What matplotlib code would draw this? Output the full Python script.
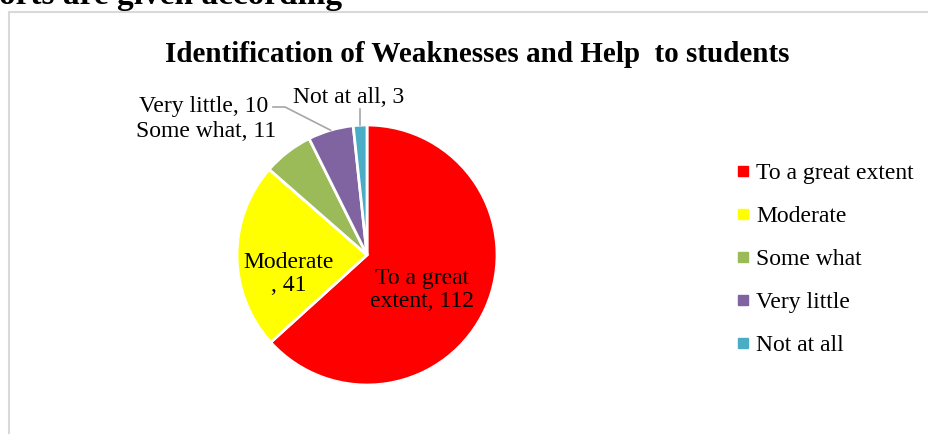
import numpy as np
import matplotlib
matplotlib.use("Agg")
import matplotlib.pyplot as plt
from matplotlib.lines import Line2D
from matplotlib.patches import Rectangle

plt.rcParams['font.family'] = ['Liberation Serif', 'DejaVu Serif']

# data
categories = ["To a great extent", "Moderate", "Some what", "Very little", "Not at all"]
counts = [112, 41, 11, 10, 3]
colors = ["#FF0000", "#FFFF00", "#9BBB59", "#8064A2", "#4BACC6"]
title = "Identification of Weaknesses and Help  to students"
heading = "orts are given according"

W, H = 929, 434
fig = plt.figure(figsize=(W / 100, H / 100), dpi=100)

# bits of the page around the chart
fig.text(-1 / W, 1 - 4 / H, heading, fontsize=24, fontweight='bold',
         ha='left', va='baseline')
fig.patches.append(Rectangle((8.5 / W, -0.1), 1.2, 1.1 - 12.5 / H,
                             transform=fig.transFigure, fill=False,
                             edgecolor='#D9D9D9', lw=1.5))

fig.text(477 / W, 1 - 62 / H, title, fontsize=21, fontweight='bold',
         ha='center', va='baseline')

# pie, centre (367,255) radius 130 px
cx, cy, r = 367, 255, 130
ax = fig.add_axes([(cx - r) / W, (H - cy - r) / H, 2 * r / W, 2 * r / H])
wedges, _ = ax.pie(counts, colors=colors, startangle=90, counterclock=False,
                   wedgeprops=dict(edgecolor='white', linewidth=2))
ax.set_xlim(-1, 1)
ax.set_ylim(-1, 1)
ax.set_aspect('equal')
ax.axis('off')


def d(px, py):
    # pixel (from top-left) -> data coords of pie axes
    return (px - cx) / r, (cy - py) / r


def rim(w):
    a = np.deg2rad((w.theta1 + w.theta2) / 2)
    return np.cos(a), np.sin(a)


fs = 17
ax.text(*d(289, 274), f"{categories[1]}\n, {counts[1]}", fontsize=fs,
        ha='center', va='center', multialignment='center', linespacing=1.1)
ax.text(*d(422, 290), "To a great\nextent, " + str(counts[0]), fontsize=fs,
        ha='center', va='center', multialignment='center', linespacing=1.1)
ax.text(*d(276, 137), f"{categories[2]}, {counts[2]}", fontsize=fs,
        ha='right', va='baseline', clip_on=False)
ax.text(*d(268, 112), f"{categories[3]}, {counts[3]}", fontsize=fs,
        ha='right', va='baseline', clip_on=False)
ax.text(*d(349, 103), f"{categories[4]}, {counts[4]}", fontsize=fs,
        ha='center', va='baseline', clip_on=False)

# leader lines
lc = '#A6A6A6'
rx, ry = rim(wedges[3])
x0, y0 = d(273, 107)
x1, y1 = d(285, 107)
ax.plot([x0, x1, rx], [y0, y1, ry], color=lc, lw=1.2, clip_on=False)
rx, ry = rim(wedges[4])
ax.plot([rx, rx], [ry, d(0, 109)[1]], color=lc, lw=1.2, clip_on=False)

handles = [Line2D([], [], marker='s', ls='', color=c, markersize=6.5)
           for c in colors]
fig.legend(handles, categories, loc='upper left',
           bbox_to_anchor=(728 / W, 1 - 153 / H), frameon=False,
           fontsize=fs, handlelength=0.5, handletextpad=0.3,
           labelspacing=0.91, borderaxespad=0)

fig.savefig("out.png", dpi=100)
